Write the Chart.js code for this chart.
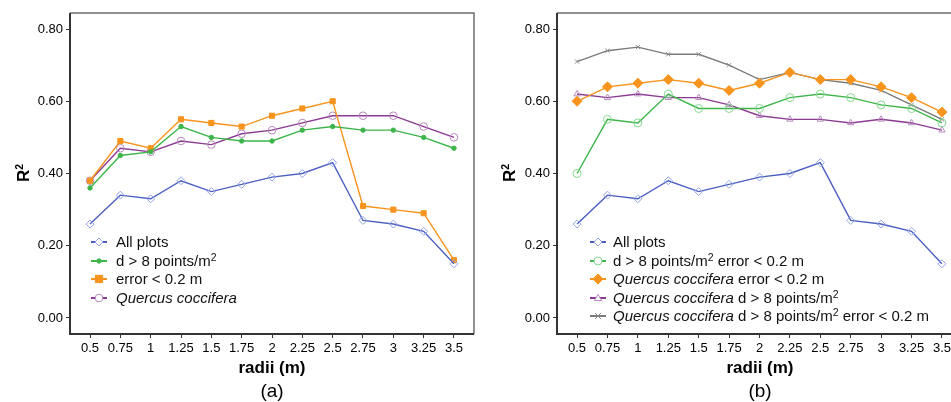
<!DOCTYPE html>
<html><head><meta charset="utf-8">
<script src="https://cdn.jsdelivr.net/npm/chart.js@4.4.0/dist/chart.umd.min.js"></script>
<style>
html,body{margin:0;padding:0}
body{width:951px;height:402px;overflow:hidden;background:#fff;font-family:"Liberation Sans",Arial,Helvetica,sans-serif;position:relative;color:#000}
.wrap{position:absolute;top:0}
.ytitle{position:absolute;font-weight:bold;font-size:17px;transform:translate(-50%,-50%) rotate(-90deg);white-space:nowrap;color:#000}
.ytitle sup{font-size:0.62em;vertical-align:0.55em;line-height:0}
.leg sup{font-size:0.7em;vertical-align:0.5em;line-height:0}
.xtitle{position:absolute;font-weight:bold;font-size:17px;transform:translate(-50%,-50%);white-space:nowrap}
.cap{position:absolute;font-size:19px;transform:translate(-50%,-50%);white-space:nowrap}
.leg{position:absolute;font-size:15px;color:#111}
.row{height:18.5px;line-height:18.5px;display:flex;align-items:center;white-space:nowrap}
.row svg{flex:none}
i{font-style:italic}
</style>
</head><body>
<div class="wrap" style="left:0;width:480px;height:402px"><canvas id="cA" width="480" height="402"></canvas></div>
<div class="wrap" style="left:480px;width:490px;height:402px"><canvas id="cB" width="490" height="402"></canvas></div>

<div class="ytitle" style="left:24px;top:173px">R<sup>2</sup></div>
<div class="ytitle" style="left:510px;top:173px">R<sup>2</sup></div>
<div class="xtitle" style="left:272px;top:368px">radii (m)</div>
<div class="xtitle" style="left:760px;top:368px">radii (m)</div>
<div class="cap" style="left:272px;top:391px">(a)</div>
<div class="cap" style="left:760px;top:391px">(b)</div>

<div class="leg" id="legA" style="left:91px;top:233px"></div>
<div class="leg" id="legB" style="left:590px;top:233px"></div>

<script>
// ---- data ----
const radii = ["0.5","0.75","1","1.25","1.5","1.75","2","2.25","2.5","2.75","3","3.25","3.5"];
const yTicks = [0, 0.2, 0.4, 0.6, 0.8];

// panel (a)
const allPlots   = [0.26,0.34,0.33,0.38,0.35,0.37,0.39,0.40,0.43,0.27,0.26,0.24,0.15];
const dense      = [0.36,0.45,0.46,0.53,0.50,0.49,0.49,0.52,0.53,0.52,0.52,0.50,0.47];
const lowError   = [0.38,0.49,0.47,0.55,0.54,0.53,0.56,0.58,0.60,0.31,0.30,0.29,0.16];
const quercus    = [0.38,0.47,0.46,0.49,0.48,0.51,0.52,0.54,0.56,0.56,0.56,0.53,0.50];

// panel (b)
const denseErr        = [0.40,0.55,0.54,0.62,0.58,0.58,0.58,0.61,0.62,0.61,0.59,0.58,0.54];
const quercusErr      = [0.60,0.64,0.65,0.66,0.65,0.63,0.65,0.68,0.66,0.66,0.64,0.61,0.57];
const quercusDense    = [0.62,0.61,0.62,0.61,0.61,0.59,0.56,0.55,0.55,0.54,0.55,0.54,0.52];
const quercusDenseErr = [0.71,0.74,0.75,0.73,0.73,0.70,0.66,0.68,0.66,0.65,0.63,0.59,0.55];

// ---- styles ----
const S = {
  blue:   {line:'#4a5fbf', pt:'#93a3e6', fill:'rgba(0,0,0,0)', style:'rectRot', r:4},
  greenDot:{line:'#3db54a', pt:'#3db54a', fill:'#3db54a', style:'circle', r:2.2},
  orangeSq:{line:'#f7941d', pt:'#f7941d', fill:'#f7941d', style:'rect', r:3.6},
  purpleCirc:{line:'#8b3a93', pt:'#b589bb', fill:'rgba(0,0,0,0)', style:'circle', r:3.8},
  greenCirc:{line:'#3db54a', pt:'#86d890', fill:'rgba(0,0,0,0)', style:'circle', r:4},
  orangeDia:{line:'#f7941d', pt:'#f7941d', fill:'#f7941d', style:'rectRot', r:5},
  purpleTri:{line:'#8b3a93', pt:'#b589bb', fill:'rgba(0,0,0,0)', style:'triangle', r:3.6},
  grayX:  {line:'#7b7b7b', pt:'#8a8a8a', fill:'rgba(0,0,0,0)', style:'crossRot', r:3}
};

function ds(label, vals, st){
  return {
    label, data: vals.map((v,i)=>({x:i,y:v})),
    borderColor: st.line, borderWidth: 1.4,
    pointStyle: st.style, pointRadius: st.r, pointBorderColor: st.pt,
    pointBackgroundColor: st.fill, pointBorderWidth: 1, tension: 0
  };
}

const boxPlugin = {
  id:'box',
  afterDraw(chart){
    const {ctx, chartArea:a} = chart;
    ctx.save();
    ctx.strokeStyle = '#6e6e6e'; ctx.lineWidth = 1.5;
    ctx.beginPath();
    ctx.moveTo(a.left, a.top); ctx.lineTo(a.right, a.top); ctx.lineTo(a.right, a.bottom);
    ctx.stroke();
    ctx.strokeStyle = '#333'; ctx.lineWidth = 2;
    ctx.beginPath();
    ctx.moveTo(a.left, a.top); ctx.lineTo(a.left, a.bottom); ctx.lineTo(a.right, a.bottom);
    ctx.stroke();
    ctx.restore();
  }
};

function makeChart(id, datasets, yW, padL, padR){
  return new Chart(document.getElementById(id), {
    type:'line',
    data:{datasets},
    plugins:[boxPlugin],
    options:{
      responsive:false, animation:false,
      layout:{padding:{left:padL, right:padR, top:13, bottom:0}},
      plugins:{legend:{display:false}, tooltip:{enabled:false}},
      scales:{
        x:{type:'linear', min:-0.66, max:12.66,
          afterBuildTicks(s){ s.ticks = radii.map((_,i)=>({value:i})); },
          afterFit(s){ s.height = 68; },
          grid:{drawOnChartArea:false, tickLength:4, color:'#333', tickWidth:1},
          border:{display:false},
          ticks:{callback:(v)=>radii[v], color:'#000', padding:3, maxRotation:0, autoSkip:false,
                 font:{family:'"Liberation Sans", Arial, sans-serif', size:13}}
        },
        y:{type:'linear', min:-0.0444, max:0.8444,
          afterBuildTicks(s){ s.ticks = yTicks.map(v=>({value:v})); },
          afterFit(s){ s.width = yW; },
          grid:{drawOnChartArea:false, tickLength:4, color:'#333', tickWidth:1},
          border:{display:false},
          ticks:{callback:(v)=>v.toFixed(2), color:'#000', padding:3,
                 font:{family:'"Liberation Sans", Arial, sans-serif', size:13}}
        }
      }
    }
  });
}

makeChart('cA', [
  ds('All plots', allPlots, S.blue),
  ds('d > 8 points/m2', dense, S.greenDot),
  ds('error < 0.2 m', lowError, S.orangeSq),
  ds('Quercus coccifera', quercus, S.purpleCirc)
], 70, 0, 6);

makeChart('cB', [
  ds('All plots', allPlots, S.blue),
  ds('d > 8 points/m2 error < 0.2 m', denseErr, S.greenCirc),
  ds('Quercus coccifera error < 0.2 m', quercusErr, S.orangeDia),
  ds('Quercus coccifera d > 8 points/m2', quercusDense, S.purpleTri),
  ds('Quercus coccifera d > 8 points/m2 error < 0.2 m', quercusDenseErr, S.grayX)
], 77, 0, 8);

// ---- legends (HTML) ----
function marker(st, w){
  const cx = w/2, cy = 9, r = st.r;
  let m = '';
  const fill = st.fill.startsWith('rgba') ? 'none' : st.fill;
  if (st.style==='rectRot') m = `<polygon points="${cx},${cy-r} ${cx+r},${cy} ${cx},${cy+r} ${cx-r},${cy}" fill="${fill==='none'?'#fff':fill}" stroke="${st.pt}" stroke-width="1"/>`;
  else if (st.style==='circle') m = `<circle cx="${cx}" cy="${cy}" r="${r}" fill="${fill==='none'?'#fff':fill}" stroke="${st.pt}" stroke-width="1"/>`;
  else if (st.style==='rect') m = `<rect x="${cx-r}" y="${cy-r}" width="${2*r}" height="${2*r}" fill="${fill}" stroke="${st.pt}"/>`;
  else if (st.style==='triangle') m = `<polygon points="${cx},${cy-r} ${cx+r},${cy+r*0.7} ${cx-r},${cy+r*0.7}" fill="#fff" stroke="${st.pt}" stroke-width="1"/>`;
  else if (st.style==='crossRot') m = `<path d="M${cx-r},${cy-r}L${cx+r},${cy+r}M${cx-r},${cy+r}L${cx+r},${cy-r}" stroke="${st.pt}" stroke-width="1"/>`;
  return `<svg width="${w}" height="18"><line x1="0" y1="9" x2="${w}" y2="9" stroke="${st.line}" stroke-width="2"/>${m}</svg>`;
}
function legend(id, items, w, gap){
  document.getElementById(id).innerHTML = items.map(([st, html]) =>
    `<div class="row">${marker(st, w)}<span style="margin-left:${gap}px">${html}</span></div>`).join('');
}
legend('legA', [
  [S.blue, 'All plots'],
  [S.greenDot, 'd &gt; 8 points/m<sup>2</sup>'],
  [S.orangeSq, 'error &lt; 0.2 m'],
  [S.purpleCirc, '<i>Quercus coccifera</i>']
], 16, 9);
legend('legB', [
  [S.blue, 'All plots'],
  [S.greenCirc, 'd &gt; 8 points/m<sup>2</sup> error &lt; 0.2 m'],
  [S.orangeDia, '<i>Quercus coccifera</i> error &lt; 0.2 m'],
  [S.purpleTri, '<i>Quercus coccifera</i> d &gt; 8 points/m<sup>2</sup>'],
  [S.grayX, '<i>Quercus coccifera</i> d &gt; 8 points/m<sup>2</sup> error &lt; 0.2 m']
], 16, 7);
</script>
</body></html>
